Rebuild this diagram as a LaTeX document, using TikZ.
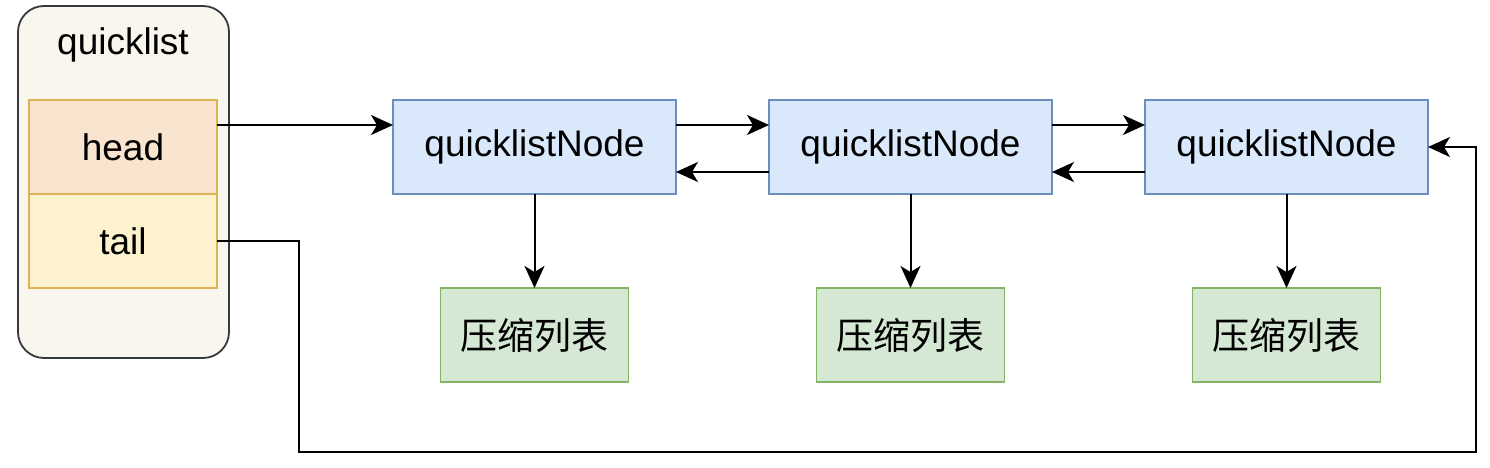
\documentclass[tikz,border=0pt]{standalone}
\usepackage{fontspec}
\setmainfont{Liberation Sans}
\newfontfamily\cjk{Noto Sans CJK SC}
\usetikzlibrary{positioning,arrows.meta}
\definecolor{qlfill}{HTML}{F9F7ED}
\definecolor{qldraw}{HTML}{36393D}
\definecolor{headfill}{HTML}{F9E4D0}
\definecolor{tailfill}{HTML}{FDF2CE}
\definecolor{fielddraw}{HTML}{DDB355}
\definecolor{nodefill}{HTML}{DAE8FC}
\definecolor{nodedraw}{HTML}{6C8EBF}
\definecolor{zipfill}{HTML}{D5E8D4}
\definecolor{zipdraw}{HTML}{82B366}

\begin{document}
\begin{tikzpicture}[x=1pt,y=-1pt,
  font=\fontsize{37}{40}\selectfont,
  box/.style={draw,line width=1.8pt,outer sep=0pt,inner sep=0pt},
  field/.style={box,draw=fielddraw,minimum width=188pt,minimum height=94pt},
  qnode/.style={box,fill=nodefill,draw=nodedraw,minimum width=283pt,minimum height=94pt},
  zip/.style={box,fill=zipfill,draw=zipdraw,minimum width=188pt,minimum height=94pt,font=\fontsize{37}{40}\cjk},
  link/.style={line width=2pt,-{Stealth[length=22pt,width=20pt,inset=6pt]}}]

\useasboundingbox (0,0) rectangle (1490,468);

\node[box,draw=qldraw,fill=qlfill,rounded corners=26pt,minimum width=211pt,minimum height=352pt] (ql) at (123.5,182) {};
\node (qltitle) at (123,45) {quicklist};
\node[field,fill=headfill] (head) at (123,147) {head};
\node[field,fill=tailfill,below=0pt of head] (tail) {tail};

\node[qnode] (n1) at (534.5,147) {quicklistNode};
\node[qnode,right=93pt of n1] (n2) {quicklistNode};
\node[qnode,right=93pt of n2] (n3) {quicklistNode};

\node[zip,below=94pt of n1] (z1) {压缩列表};
\node[zip,below=94pt of n2] (z2) {压缩列表};
\node[zip,below=94pt of n3] (z3) {压缩列表};

\draw[link] ([yshift=22pt]head.east) -- ([yshift=22pt]n1.west);
\draw[link] ([yshift=22pt]n1.east) -- ([yshift=22pt]n2.west);
\draw[link] ([yshift=22pt]n2.east) -- ([yshift=22pt]n3.west);
\draw[link] ([yshift=-25pt]n2.west) -- ([yshift=-25pt]n1.east);
\draw[link] ([yshift=-25pt]n3.west) -- ([yshift=-25pt]n2.east);

\draw[link] (n1) -- (z1);
\draw[link] (n2) -- (z2);
\draw[link] (n3) -- (z3);

\draw[link] (tail.east) -| (299,452) -| (1476,147) -- (n3.east);
\end{tikzpicture}
\end{document}
